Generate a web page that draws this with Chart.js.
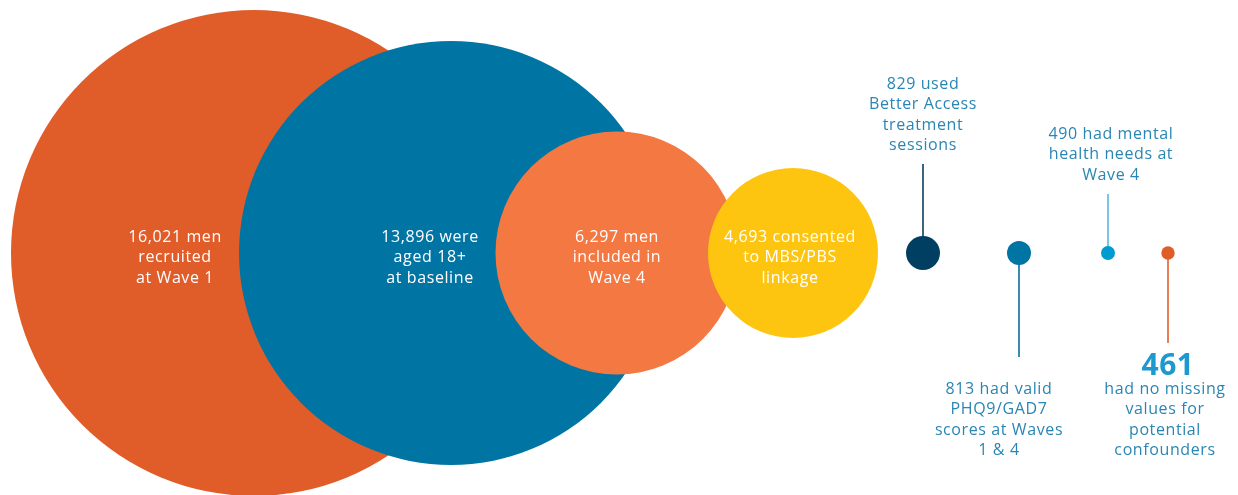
<!DOCTYPE html>
<html><head><meta charset="utf-8">
<script src="https://cdn.jsdelivr.net/npm/chart.js@4/dist/chart.umd.min.js"></script>
<style>html,body{margin:0;padding:0;background:#fff;overflow:hidden}#wrap{width:1238px;height:495px}</style>
</head><body><div id="wrap"><canvas id="c" width="1238" height="495"></canvas></div>
<script>
// ---- data ----
const stages = ['Recruited at Wave 1','Aged 18+ at baseline','Included in Wave 4','Consented to MBS/PBS linkage','Used Better Access','Valid PHQ9/GAD7 at Waves 1 & 4','Mental health needs at Wave 4','No missing confounders'];
const counts = [16021, 13896, 6297, 4693, 829, 813, 490, 461];
const labelLines = [
  ['16,021 men','recruited','at Wave 1'],
  ['13,896 were','aged 18+','at baseline'],
  ['6,297 men','included in','Wave 4'],
  ['4,693 consented','to MBS/PBS','linkage'],
  ['829 used','Better Access','treatment','sessions'],
  ['813 had valid','PHQ9/GAD7','scores at Waves','1 & 4'],
  ['490 had mental','health needs at','Wave 4'],
  ['had no missing','values for','potential','confounders']
];
const highlightNumber = [null,null,null,null,null,null,null,'461'];

// ---- layout / style (not data) ----
const stageX = [254, 451, 617, 793, 923, 1019, 1108, 1168];
const centerY = 253;
const markerRadius = [243, 212, 121.5, 85, 17, 12, 7, 6.7];
const fillColors = ['#E05C29','#0075A3','#F47842','#FEC510','#003F62','#0074A2','#009BD0','#E15D28'];
const stemEndY = [null,null,null,null,164,357,194,343];
const stemColors = [null,null,null,null,'#0D3E5E','#0B6E9C','#5BB8DE','#E0602B'];
const textX = [175, 430, 617, 790, 923, 999, 1111, 1165];
const textY = [237, 237, 237, 237, 84, 389, 134, 389];
const textColor = ['#fff','#fff','#fff','#fff','#2986B4','#2986B4','#2986B4','#2986B4'];
const lineH = 20.5;

const datasets = [];
datasets.push({
  type:'bubble', label:'Cohort', order:0, clip:false,
  data: counts.map((c,i)=>({x:stageX[i], y:centerY, r:markerRadius[i], n:c})),
  backgroundColor: fillColors, borderWidth:0, hoverRadius:0, hoverBorderWidth:0
});
counts.forEach((c,i)=>{
  if (stemEndY[i]===null) return;
  datasets.push({
    type:'line', label:'stem'+i, order:1, clip:false,
    data:[{x:stageX[i], y:centerY},{x:stageX[i], y:stemEndY[i]}],
    borderColor: stemColors[i], borderWidth:1.6, pointRadius:0, fill:false
  });
});

const labelPlugin = {
  id:'labels',
  afterDatasetsDraw(chart){
    const ctx = chart.ctx, xs = chart.scales.x, ys = chart.scales.y;
    ctx.save();
    ctx.textAlign='center'; ctx.textBaseline='middle';
    labelLines.forEach((lines,i)=>{
      const px = xs.getPixelForValue(textX[i]);
      let py = ys.getPixelForValue(textY[i]);
      if (highlightNumber[i]) {
        ctx.letterSpacing = '0.5px';
        ctx.font = 'bold 30px "Open Sans"';
        ctx.fillStyle = '#1C9AD0';
        ctx.fillText(highlightNumber[i], xs.getPixelForValue(stageX[i]), py - 23);
      }
      ctx.letterSpacing = '0.6px';
      ctx.font = '16px "Open Sans"';
      ctx.fillStyle = textColor[i];
      lines.forEach((t,k)=>ctx.fillText(t, px, py + k*lineH));
    });
    ctx.restore();
  }
};

new Chart(document.getElementById('c'), {
  data:{ datasets },
  options:{
    responsive:false, animation:false, devicePixelRatio:1,
    layout:{padding:0, autoPadding:false},
    plugins:{legend:{display:false}, tooltip:{enabled:false}},
    events:[],
    scales:{
      x:{type:'linear', min:0, max:1238, display:false},
      y:{type:'linear', min:0, max:495, reverse:true, display:false}
    }
  },
  plugins:[labelPlugin]
});
</script></body></html>
